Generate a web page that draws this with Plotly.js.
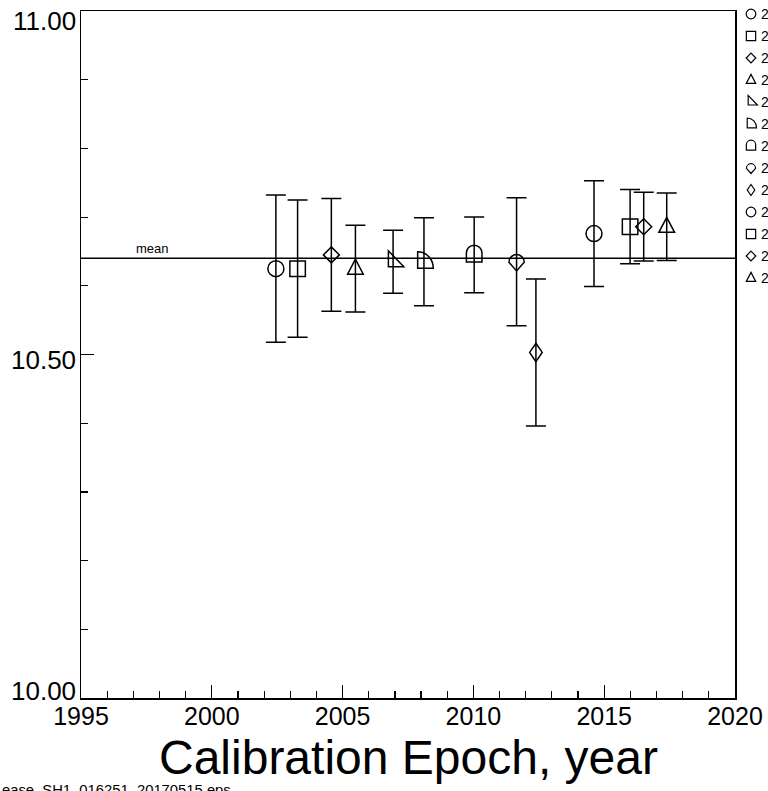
<!DOCTYPE html>
<html><head><meta charset="utf-8">
<script src="https://cdn.plot.ly/plotly-3.0.1.min.js"></script>
<style>html,body{margin:0;padding:0;background:#fff}#chart{width:768px;height:791px}</style>
</head><body><div id="chart"></div>
<script>
// ---- data ----
const epochs = [2002.45, 2003.28, 2004.57, 2005.49, 2006.93, 2008.11, 2010.03, 2011.65, 2012.39, 2014.61, 2015.99, 2016.51, 2017.39];
const gains  = [10.625, 10.625, 10.645, 10.625, 10.635, 10.635, 10.645, 10.635, 10.503, 10.676, 10.686, 10.686, 10.686];
const errors = [0.107, 0.100, 0.082, 0.063, 0.046, 0.064, 0.055, 0.093, 0.107, 0.077, 0.054, 0.050, 0.049];
const symbols = ['circle','square','diamond','triangle','triangle-right','quarter','dome','pin','diamond-thin','circle','square','diamond','triangle'];
const legendLabels = ['2002.45','2003.28','2004.57','2005.49','2006.93','2008.11','2010.03','2011.65','2012.39','2014.61','2015.99','2016.51','2017.39'];
const meanValue = 10.640;
const xTickVals = [1995, 2000, 2005, 2010, 2015, 2020];
const yTickVals = [10.0, 10.5, 11.0];
const yTickText = ['10.00', '10.50', '11.00'];
const xTitle = 'Calibration Epoch, year';
const meanLabel = 'mean';
const footnote = 'ease_SH1_016251_20170515.eps';

// ---- layout constants ----
const W = 768, H = 791, ML = 81, MR = 33, MT = 11, MB = 93;
const PW = W - ML - MR, PH = H - MT - MB;
const FONT = 'Liberation Sans, Arial, Helvetica, sans-serif';
const px2paperX = p => (p - ML) / PW;
const px2paperY = p => 1 - (p - MT) / PH;

// symbol outlines (pixel offsets, y up)
const c = 0.5523;
const SYM = {
  circle: [['M',8,0],['C',8,8*c,8*c,8,0,8],['C',-8*c,8,-8,8*c,-8,0],['C',-8,-8*c,-8*c,-8,0,-8],['C',8*c,-8,8,-8*c,8,0],['Z']],
  square: [['M',-7.75,-7.75],['L',7.75,-7.75],['L',7.75,7.75],['L',-7.75,7.75],['Z']],
  diamond: [['M',0,8],['L',8,0],['L',0,-8],['L',-8,0],['Z']],
  triangle: [['M',-7.85,-5.6],['L',7.85,-5.6],['L',0,9.4],['Z']],
  'triangle-right': [['M',-4.7,-5],['L',-4.7,11],['L',10.7,-5],['Z']],
  quarter: [['M',-6.3,-6.5],['L',-6.3,10],['C',-6.3+15.6*c,10,9.3,-6.5+16.5*c,9.3,-6.5],['Z']],
  dome: [['M',-7.8,-7],['L',-7.8,1.9],['C',-7.8,1.9+7.8*c,-7.8*c,9.7,0,9.7],['C',7.8*c,9.7,7.8,1.9+7.8*c,7.8,1.9],['L',7.8,-7],['Z']],
  pin: [['M',-7.65,-0.5],['C',-7.65,-0.5+7.65*c,-7.65*c,7.15,0,7.15],['C',7.65*c,7.15,7.65,-0.5+7.65*c,7.65,-0.5],['L',0,-9.2],['Z']],
  'diamond-thin': [['M',0,9.2],['L',6.3,0],['L',0,-9.2],['L',-6.3,0],['Z']]
};
function pathStr(name, k) {
  return SYM[name].map(s => s[0] + s.slice(1).map(v => (v * k).toFixed(2)).join(',')).join(' ');
}
const NATIVE = {circle: ['circle-open', 16], square: ['square-open', 15.5], diamond: ['diamond-open', 12.3]};

const shapes = [];
// mean line
shapes.push({type: 'line', xref: 'paper', x0: 0, x1: 1, yref: 'y', y0: meanValue, y1: meanValue,
  line: {color: 'black', width: 1.5}, layer: 'above'});

// custom plot markers
epochs.forEach((x, i) => {
  const s = symbols[i];
  if (!NATIVE[s]) {
    shapes.push({type: 'path', xref: 'x', yref: 'y', xsizemode: 'pixel', ysizemode: 'pixel',
      xanchor: x, yanchor: gains[i], path: pathStr(s, 1), line: {color: 'black', width: 1.5},
      fillcolor: 'rgba(0,0,0,0)', layer: 'above'});
  }
});

// legend symbols + labels
const annotations = [];
legendLabels.forEach((lab, i) => {
  const yp = px2paperY(14 + 22 * i);
  shapes.push({type: 'path', xref: 'paper', yref: 'paper', xsizemode: 'pixel', ysizemode: 'pixel',
    xanchor: px2paperX(751), yanchor: yp, path: pathStr(symbols[i], 0.6),
    line: {color: 'black', width: 1.2}, fillcolor: 'rgba(0,0,0,0)', layer: 'above'});
  annotations.push({xref: 'paper', yref: 'paper', x: px2paperX(759), y: yp, xanchor: 'left', yanchor: 'middle',
    text: lab, showarrow: false, font: {family: FONT, size: 14, color: 'black'}});
});

// y tick labels (label offsets as in the original figure)
const yShift = {'10': 7, '10.5': -5, '11': -10};
yTickVals.forEach((v, i) => {
  annotations.push({xref: 'paper', yref: 'y', x: 0, y: v, xanchor: 'right', yanchor: 'middle',
    xshift: -3, yshift: yShift[String(v)], text: yTickText[i], showarrow: false,
    font: {family: FONT, size: 26, color: 'black'}});
});

// mean label
annotations.push({xref: 'paper', yref: 'y', x: px2paperX(152), y: meanValue, xanchor: 'center', yanchor: 'bottom',
  text: meanLabel, showarrow: false, font: {family: FONT, size: 13, color: 'black'}});
// x title
annotations.push({xref: 'paper', yref: 'paper', x: 0.5, y: px2paperY(757), xanchor: 'center', yanchor: 'middle',
  text: xTitle, showarrow: false, font: {family: FONT, size: 48, color: 'black'}});
// footnote
annotations.push({xref: 'paper', yref: 'paper', x: px2paperX(0), y: px2paperY(780), xanchor: 'left', yanchor: 'top',
  text: footnote, showarrow: false, font: {family: FONT, size: 14.8, color: 'black'}});

const trace = {
  type: 'scatter', mode: 'markers', x: epochs, y: gains,
  error_y: {type: 'data', array: errors, visible: true, color: 'black', thickness: 1.5, width: 10},
  marker: {
    symbol: symbols.map(s => NATIVE[s] ? NATIVE[s][0] : 'circle-open'),
    size: symbols.map(s => NATIVE[s] ? NATIVE[s][1] : 1),
    opacity: symbols.map(s => NATIVE[s] ? 1 : 0),
    color: 'black', line: {color: 'black', width: 1.5}
  },
  showlegend: false, hoverinfo: 'x+y'
};

const axisCommon = {
  showline: true, linecolor: 'black', linewidth: 1.5, mirror: true,
  showgrid: false, zeroline: false, ticks: 'inside', tickcolor: 'black', tickwidth: 1.2, ticklen: 13
};
const layout = {
  width: W, height: H, margin: {l: ML, r: MR, t: MT, b: MB},
  paper_bgcolor: 'white', plot_bgcolor: 'white', showlegend: false,
  font: {family: FONT, color: 'black'},
  xaxis: Object.assign({}, axisCommon, {
    range: [1995, 2020], tickmode: 'array', tickvals: xTickVals, ticktext: xTickVals.map(String),
    tickfont: {family: FONT, size: 25, color: 'black'}, ticklabelstandoff: -5,
    minor: {dtick: 1, tick0: 1995, ticks: 'inside', ticklen: 7, tickwidth: 1.2, tickcolor: 'black', showgrid: false}
  }),
  yaxis: Object.assign({}, axisCommon, {
    range: [10, 11], tickmode: 'array', tickvals: yTickVals, showticklabels: false,
    minor: {dtick: 0.1, tick0: 10, ticks: 'inside', ticklen: 7, tickwidth: 1.2, tickcolor: 'black', showgrid: false}
  }),
  shapes: shapes, annotations: annotations
};
Plotly.newPlot('chart', [trace], layout, {displayModeBar: false, staticPlot: true});
</script></body></html>
